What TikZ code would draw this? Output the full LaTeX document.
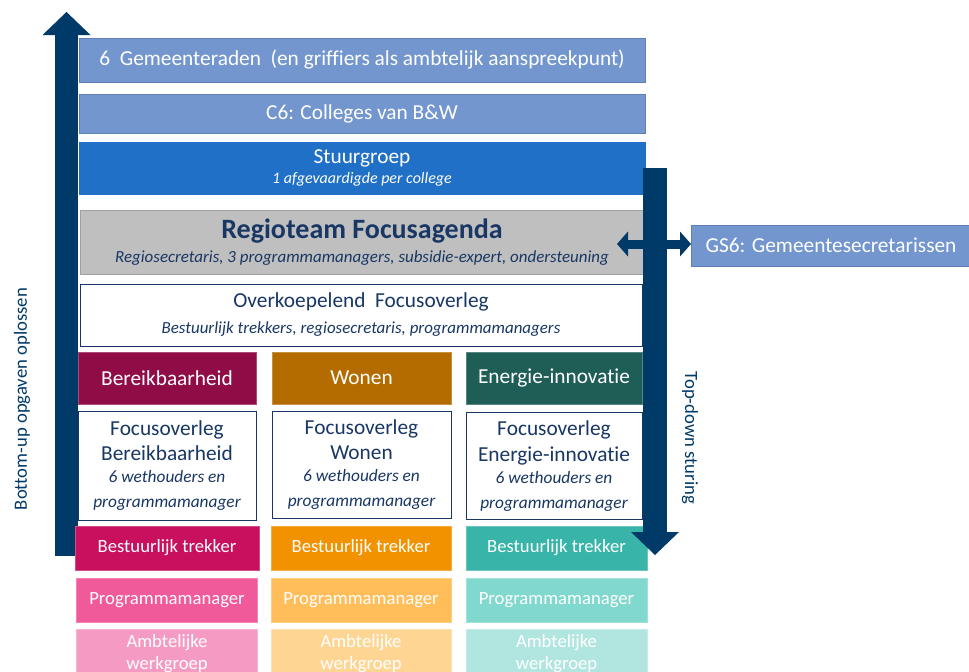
\documentclass[tikz,border=0pt]{standalone}
\usepackage{fontspec}
\setmainfont{Carlito}[Ligatures=NoCommon]
\usetikzlibrary{arrows.meta,positioning}
\definecolor{lichtblauw}{RGB}{114,150,205}
\definecolor{lichtrand}{RGB}{95,128,182}
\definecolor{stuurblauw}{RGB}{31,112,198}
\definecolor{grijs}{RGB}{191,191,191}
\definecolor{grijsrand}{RGB}{160,160,160}
\definecolor{donkerblauw}{RGB}{25,55,100}
\definecolor{pijlblauw}{RGB}{0,58,105}
\definecolor{bordeaux}{RGB}{144,12,70}
\definecolor{oker}{RGB}{180,108,0}
\definecolor{donkergroen}{RGB}{30,94,86}
\definecolor{magenta}{RGB}{200,16,95}
\definecolor{oranje}{RGB}{242,146,0}
\definecolor{turkoois}{RGB}{56,181,168}
\definecolor{roze}{RGB}{240,90,155}
\definecolor{lichtoranje}{RGB}{255,190,90}
\definecolor{lichtturkoois}{RGB}{128,216,206}
\definecolor{lichtroze}{RGB}{245,155,195}
\definecolor{perzik}{RGB}{255,213,147}
\definecolor{mint}{RGB}{177,230,224}
\newcommand{\sub}{\fontsize{12}{14.5}\selectfont\itshape}
\newcommand{\subgroot}{\fontsize{12.7}{15}\selectfont\itshape}
\newcommand{\wet}{\fontsize{13}{16.5}\selectfont\itshape}
\tikzset{
    % maten in pixels van het origineel
    size/.style 2 args={
           minimum width=#1*0.75pt,
           minimum height=#2*0.75pt},
    % basisblok
    blok/.style={
           rectangle,
           draw, line width=0.75pt,
           inner sep=0pt, outer sep=0pt,
           align=center,
           font=\fontsize{16}{19}\selectfont},
    lichtblok/.style={
           blok,
           fill=lichtblauw, draw=lichtrand,
           text=white},
    witblok/.style={
           blok,
           fill=white, draw=donkerblauw,
           text=donkerblauw},
    kleurblok/.style={
           blok,
           fill=#1, draw=#1!75!white,
           text=white},
    rolblok/.style={
           kleurblok=#1,
           font=\fontsize{14}{16.5}\selectfont},
    zijtekst/.style={
           text=pijlblauw,
           inner sep=0pt,
           font=\fontsize{14}{16}\selectfont},
    % pijlen
    grotepijl/.style={
           draw=pijlblauw, line width=17.25pt,
           -{Triangle[width=36pt,length=17.25pt,line width=0pt]}},
    dubbelpijl/.style={
           draw=pijlblauw, line width=6.75pt,
           {Triangle[width=18.75pt,length=8.25pt,line width=0pt]}-{Triangle[width=18.75pt,length=8.25pt,line width=0pt]}}
}
\begin{document}
\begin{tikzpicture}[x=0.75pt,y=-0.75pt]
\clip (0,0) rectangle (969,671);
% bottom-up pijl
\coordinate (onder) at (66.5,556);
\coordinate (boven) at (66.5,12);
\draw[grotepijl] (onder) -- (boven);
\node[zijtekst, rotate=90] (bottomup) at (22,399) {Bottom-up opgaven oplossen};
% bovenste lagen
\node[lichtblok, size={566}{44}] (raden) at (362,60) {6\ \ Gemeenteraden\ \ (en griffiers als ambtelijk aanspreekpunt)};
\node[lichtblok, size={566}{39}] (colleges) at (362,113.5) {C6: Colleges van B\&W};
\node[kleurblok=stuurblauw, draw=stuurblauw, size={566}{52}] (stuur) at (362,168) {Stuurgroep\\[-4.5pt]\sub 1 afgevaardigde per college};
\node[blok, fill=grijs, draw=grijsrand, text=donkerblauw, size={564}{64}] (regio) at (362,242)
    {\fontsize{21}{24}\selectfont\bfseries Regioteam Focusagenda\\[-1.5pt]\subgroot Regiosecretaris, 3 programmamanagers, subsidie-expert, ondersteuning};
\node[witblok, size={562}{62}] (overkoepelend) at (361,315)
    {Overkoepelend\ \ Focusoverleg\\[0.5pt]\subgroot Bestuurlijk trekkers, regiosecretaris, programmamanagers};
\node[lichtblok, size={280}{41}] (gs) at (831,245.5) {GS6: Gemeentesecretarissen};
% thema's
\node[kleurblok=bordeaux, size={178}{52}] (bereik) at (167,378) {Bereikbaarheid};
\node[kleurblok=oker, size={179}{52}] (wonen) at (361.5,378) {Wonen};
\node[kleurblok=donkergroen, size={176}{52}] (energie) at (554,378) {Energie-innovatie};
% focusoverleggen
\node[witblok, align=flush center, size={178}{109}, text width=170*0.75pt, below=5.25pt of bereik] (fbereik)
    {Focusoverleg\\Bereikbaarheid\\\wet 6 wethouders en\\\wet programmamanager};
\node[witblok, align=flush center, size={179}{107}, text width=170*0.75pt, below=5.25pt of wonen] (fwonen)
    {Focusoverleg\\Wonen\\\wet 6 wethouders en\\\wet programmamanager};
\node[witblok, align=flush center, size={176}{107}, text width=170*0.75pt, below=6.5pt of energie] (fenergie)
    {Focusoverleg\\Energie-innovatie\\\wet 6 wethouders en\\\wet programmamanager};
% bestuurlijk trekkers
\node[rolblok=magenta, size={184}{44}] (tbereik) at (167,548) {Bestuurlijk trekker};
\node[rolblok=oranje, size={180}{44}] (twonen) at (361,548) {Bestuurlijk trekker};
\node[rolblok=turkoois, size={181}{44}] (tenergie) at (556.5,548) {Bestuurlijk trekker};
% programmamanagers
\node[rolblok=roze, size={181}{44}, below=6pt of tbereik] (pbereik) {Programmamanager};
\node[rolblok=lichtoranje, size={180}{44}, below=6pt of twonen] (pwonen) {Programmamanager};
\node[rolblok=lichtturkoois, size={181}{44}, below=6pt of tenergie] (penergie) {Programmamanager};
% ambtelijke werkgroepen
\node[rolblok=lichtroze, size={181}{50}, below=5.25pt of pbereik] (abereik) {Ambtelijke\\werkgroep};
\node[rolblok=perzik, size={180}{50}, below=5.25pt of pwonen] (awonen) {Ambtelijke\\werkgroep};
\node[rolblok=mint, size={181}{50}, below=5.25pt of penergie] (aenergie) {Ambtelijke\\werkgroep};
% top-down pijl
\coordinate (top) at (655,168);
\coordinate (bodem) at (655,555);
\draw[grotepijl, line width=18pt] (top) -- (bodem);
\node[zijtekst, rotate=-90] (topdown) at (690,438) {Top-down sturing};
% koppeling regioteam - GS6
\coordinate (regiopunt) at (617,244);
\draw[dubbelpijl] (regiopunt) -- (gs.west |- regiopunt);
\end{tikzpicture}
\end{document}
